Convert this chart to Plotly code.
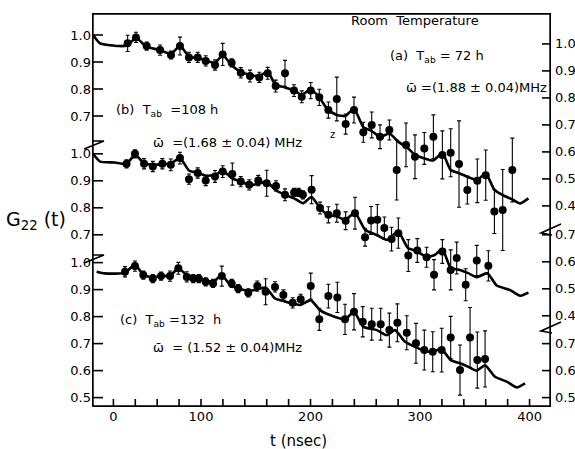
import plotly.graph_objects as go

# ---------------- data ----------------
# panel (a) T_ab = 72 h : measured points
t_a = [33, 40.6, 50.4, 62.6, 72.6, 80.8, 89, 97, 104.3, 112.8, 119.8, 128, 136.3, 144.7,
       153.2, 160.9, 168.2, 176.7, 184.9, 192, 200.2, 208, 216.3, 224, 232.1, 239.7, 248.2,
       255.9, 263.5, 272, 278.7, 287.2, 295.4, 303.9, 312.2, 320.4, 328, 335.6, 343.2,
       352.3, 360, 367.9, 375.5, 384.3]
g_a = [0.969, 0.991, 0.959, 0.944, 0.926, 0.959, 0.917, 0.917, 0.904, 0.889, 0.928, 0.897,
       0.860, 0.848, 0.843, 0.858, 0.811, 0.858, 0.794, 0.771, 0.794, 0.769, 0.722, 0.763,
       0.670, 0.722, 0.640, 0.667, 0.623, 0.648, 0.500, 0.593, 0.549, 0.580, 0.623, 0.556,
       0.564, 0.522, 0.426, 0.460, 0.481, 0.346, 0.352, 0.500]
e_a = [0.030, 0.019, 0.015, 0.019, 0.015, 0.033, 0.019, 0.019, 0.019, 0.019, 0.041, 0.015,
       0.019, 0.022, 0.019, 0.022, 0.022, 0.048, 0.022, 0.022, 0.030, 0.030, 0.030, 0.081,
       0.037, 0.048, 0.037, 0.048, 0.044, 0.037, 0.111, 0.081, 0.081, 0.059, 0.081, 0.089,
       0.089, 0.160, 0.052, 0.081, 0.093, 0.081, 0.150, 0.118]
# panel (a) fitted curve
tc_a = [1.4, 7.8, 26, 33, 40.6, 50, 62.6, 72.6, 80.8, 89, 97, 104, 112.8, 119.8, 128, 136,
        144.7, 153, 161, 168, 176.7, 185, 192, 200, 208, 216, 224, 232, 239.7, 248, 256,
        263.5, 272, 280, 288, 295.4, 304, 312, 320.4, 328, 335.6, 343.2, 352.3, 360, 368,
        375.5, 384.3, 391.3, 399]
gc_a = [1.0, 0.969, 0.959, 0.962, 0.990, 0.957, 0.944, 0.930, 0.960, 0.920, 0.915, 0.907,
        0.896, 0.926, 0.888, 0.864, 0.852, 0.848, 0.864, 0.815, 0.806, 0.795, 0.778, 0.799,
        0.769, 0.722, 0.704, 0.700, 0.728, 0.660, 0.644, 0.623, 0.635, 0.605, 0.584, 0.556,
        0.543, 0.535, 0.562, 0.500, 0.488, 0.475, 0.463, 0.488, 0.426, 0.407, 0.391, 0.376,
        0.395]

# panel (b) T_ab = 108 h
t_b = [32, 39.7, 48, 56, 64.7, 72.4, 80.8, 89, 97, 104.3, 112.8, 119.8, 128.6, 136.3, 144,
       152.3, 160, 168.5, 176.7, 185, 189, 193, 201, 208.7, 216.3, 224, 232.1, 240.6, 249.8,
       255.3, 261, 267.4, 274, 280.2, 289.3, 297.5, 306, 312.8, 320.4, 328, 333.5, 341.7,
       351.8, 362.4]
g_b = [0.963, 1.0, 0.963, 0.953, 0.963, 0.959, 0.984, 0.906, 0.929, 0.901, 0.916, 0.934,
       0.925, 0.897, 0.885, 0.901, 0.891, 0.881, 0.848, 0.857, 0.857, 0.848, 0.867, 0.799,
       0.774, 0.780, 0.752, 0.780, 0.691, 0.753, 0.756, 0.725, 0.684, 0.706, 0.623, 0.642,
       0.617, 0.552, 0.638, 0.570, 0.614, 0.515, 0.605, 0.585]
e_b = [0.015, 0.015, 0.019, 0.019, 0.019, 0.022, 0.022, 0.019, 0.019, 0.019, 0.022, 0.022,
       0.041, 0.019, 0.019, 0.019, 0.048, 0.019, 0.022, 0.015, 0.015, 0.015, 0.052, 0.022,
       0.030, 0.033, 0.033, 0.059, 0.033, 0.052, 0.056, 0.041, 0.044, 0.056, 0.059, 0.044,
       0.037, 0.056, 0.044, 0.074, 0.059, 0.059, 0.056, 0.056]
tc_b = [1.4, 7.8, 21, 32, 39.7, 48, 56, 64.7, 72, 80.8, 89, 97, 104.3, 113, 119.8, 128, 136,
        144, 153, 160, 167.6, 176.7, 185, 193, 201, 208.7, 216, 224, 232, 240.6, 249.8, 260,
        270, 280, 289, 297.5, 306, 313.7, 320.4, 328, 336.5, 344, 351.8, 361.5, 370, 382,
        391.3, 399]
gc_b = [1.0, 0.971, 0.968, 0.963, 0.996, 0.966, 0.959, 0.962, 0.963, 0.984, 0.938, 0.929,
        0.919, 0.922, 0.938, 0.910, 0.897, 0.885, 0.889, 0.897, 0.867, 0.848, 0.835, 0.817,
        0.840, 0.799, 0.774, 0.768, 0.756, 0.782, 0.719, 0.700, 0.681, 0.712, 0.651, 0.639,
        0.617, 0.626, 0.647, 0.577, 0.570, 0.558, 0.543, 0.558, 0.512, 0.496, 0.474, 0.486]

# panel (c) T_ab = 132 h
t_c = [30.6, 39.7, 47.3, 56, 63.5, 71.7, 79.3, 87, 93, 98, 104.3, 111, 119, 128, 134, 143.2,
       151.4, 159, 167.6, 175.2, 183.7, 191, 200.2, 208, 216.3, 224.5, 231.5, 239.7, 247.7,
       255.9, 264.1, 272, 279.3, 287.9, 296.3, 303.9, 311.6, 319.8, 328, 336.5, 345.7,
       352.3, 359.4]
g_c = [0.966, 0.987, 0.954, 0.941, 0.950, 0.950, 0.979, 0.947, 0.941, 0.941, 0.929, 0.923,
       0.950, 0.923, 0.904, 0.888, 0.913, 0.892, 0.910, 0.880, 0.851, 0.864, 0.913, 0.790,
       0.876, 0.871, 0.790, 0.818, 0.781, 0.772, 0.772, 0.750, 0.777, 0.740, 0.701, 0.676,
       0.670, 0.676, 0.723, 0.602, 0.723, 0.639, 0.643]
e_c = [0.019, 0.019, 0.015, 0.015, 0.015, 0.019, 0.022, 0.019, 0.015, 0.015, 0.015, 0.015,
       0.037, 0.015, 0.015, 0.015, 0.019, 0.048, 0.019, 0.019, 0.019, 0.019, 0.048, 0.041,
       0.044, 0.056, 0.056, 0.067, 0.056, 0.059, 0.059, 0.063, 0.070, 0.063, 0.074, 0.074,
       0.074, 0.081, 0.078, 0.093, 0.111, 0.104, 0.104]
tc_c = [4.7, 12, 30.6, 39.7, 47.3, 56, 64, 72, 79.3, 87, 96, 104, 111, 119, 126.5, 134, 143,
        151, 159, 167.6, 176, 182.8, 190.4, 200.2, 208.7, 217.8, 231.5, 239.7, 248.2, 260.5,
        269.6, 277.2, 286.3, 295.4, 304.6, 312.2, 319.2, 328, 336.5, 344, 351.8, 359.4,
        368.5, 379.2, 388.3, 395.9]
gc_c = [0.966, 0.960, 0.962, 0.994, 0.954, 0.946, 0.950, 0.952, 0.979, 0.954, 0.945, 0.935,
        0.928, 0.954, 0.917, 0.904, 0.896, 0.900, 0.908, 0.867, 0.857, 0.849, 0.843, 0.861,
        0.824, 0.806, 0.790, 0.818, 0.762, 0.750, 0.731, 0.750, 0.707, 0.688, 0.673, 0.670,
        0.682, 0.639, 0.627, 0.614, 0.600, 0.620, 0.577, 0.559, 0.538, 0.553]

# vertical offsets of the stacked panels and their tick labels
offset_a, offset_b, offset_c = 0.0, 0.44, 0.843
offset_a_right = 0.033
left_ticks_a = [1.0, 0.9, 0.8, 0.7]
left_ticks_b = [1.0, 0.9, 0.8, 0.7]
left_ticks_c = [1.0, 0.9, 0.8, 0.7, 0.6, 0.5]
right_ticks_a = [1.0, 0.9, 0.8, 0.7, 0.6, 0.5, 0.4]
right_ticks_b = [0.7, 0.6, 0.5, 0.4]
right_ticks_c = [0.7, 0.6, 0.5]
x_ticks = list(range(20, 401, 20))
x_label_vals = [20, 100, 200, 300, 400]
x_label_text = ["0", "100", "200", "300", "400"]

# ---------------- figure ----------------
W, H = 575, 449
ML, MR, MT, MB = 92, 24, 13, 42
PW, PH = W - ML - MR, H - MT - MB
X0, X1 = 0.46, 419.6
Y0, Y1 = -0.3778, 1.0815
DX, DY = (X1 - X0) / PW, (Y1 - Y0) / PH   # data units per pixel
FONT = "DejaVu Sans"
INK = "black"


def px(x):
    return (x - ML) / PW


def py(y):
    return (H - MB - y) / PH


fig = go.Figure()

panels = [(t_a, g_a, e_a, tc_a, gc_a, offset_a),
          (t_b, g_b, e_b, tc_b, gc_b, offset_b),
          (t_c, g_c, e_c, tc_c, gc_c, offset_c)]
for t, g, e, tc, gc, off in panels:
    fig.add_trace(go.Scatter(x=tc, y=[v - off for v in gc], mode="lines",
                             line=dict(color=INK, width=2.6, shape="spline", smoothing=0.5),
                             showlegend=False, hoverinfo="skip"))
    fig.add_trace(go.Scatter(x=t, y=[v - off for v in g], mode="markers",
                             marker=dict(color=INK, size=8),
                             error_y=dict(type="data", array=e, color=INK, thickness=1.1, width=2),
                             showlegend=False, hoverinfo="skip"))

left_vals = ([v - offset_a for v in left_ticks_a] + [v - offset_b for v in left_ticks_b]
             + [v - offset_c for v in left_ticks_c])
left_text = [f"{v:.1f}" for v in left_ticks_a + left_ticks_b + left_ticks_c]
right_vals = ([v - offset_a_right for v in right_ticks_a] + [v - offset_b for v in right_ticks_b]
              + [v - offset_c for v in right_ticks_c])
right_text = [f"{v:.1f}" for v in right_ticks_a + right_ticks_b + right_ticks_c]

# frame and tick marks, drawn as plain line traces in axis units
xl, xr = X0 + 0.6 * DX, X1 - 0.6 * DX
yb_, yt_ = Y0 + 0.6 * DY, Y1 - 0.6 * DY
fig.add_trace(go.Scatter(x=[xl, xr, xr, xl, xl], y=[yb_, yb_, yt_, yt_, yb_], mode="lines",
                         line=dict(color=INK, width=2.2), showlegend=False, hoverinfo="skip",
                         cliponaxis=False))
tick_x, tick_y = [], []
for v in left_vals:
    tick_x += [X0, X0 + 11 * DX, None]
    tick_y += [v, v, None]
for v in right_vals:
    tick_x += [X1 - 9 * DX, X1, None]
    tick_y += [v, v, None]
for v in x_ticks:
    tick_x += [v, v, None]
    tick_y += [Y0, Y0 + 8 * DY, None]
fig.add_trace(go.Scatter(x=tick_x, y=tick_y, mode="lines", line=dict(color=INK, width=1.6),
                         showlegend=False, hoverinfo="skip", connectgaps=False))

tickfont = dict(family=FONT, size=13, color=INK)
fig.update_layout(
    width=W, height=H, margin=dict(l=ML, r=MR, t=MT, b=MB, pad=0, autoexpand=False),
    paper_bgcolor="white", plot_bgcolor="white",
    xaxis=dict(range=[X0, X1], tickmode="array", tickvals=x_label_vals, ticktext=x_label_text,
               showgrid=False, zeroline=False, showline=False, ticks="", automargin=False,
               tickfont=tickfont),
    yaxis=dict(range=[Y0, Y1], tickmode="array", tickvals=left_vals, ticktext=left_text,
               showgrid=False, zeroline=False, showline=False, ticks="", automargin=False,
               tickfont=tickfont),
)

# right-hand scale labels
for v, s in zip(right_vals, right_text):
    fig.add_annotation(text=s, x=1 + 2 / PW, y=v, xref="paper", yref="y", xanchor="left",
                       yanchor="middle", showarrow=False, font=tickfont)

# axis break marks
breaks_left = [143, 257]
for yb in breaks_left:
    fig.add_shape(type="path", xref="paper", yref="paper",
                  path=f"M {px(84):.4f} {py(yb + 6):.4f} L {px(104):.4f} {py(yb - 2):.4f} L {px(92):.4f} {py(yb - 2):.4f}",
                  line=dict(color=INK, width=1.6))
breaks_right = [224, 322]
for yb in breaks_right:
    fig.add_shape(type="path", xref="paper", yref="paper",
                  path=f"M {px(561):.4f} {py(yb):.4f} L {px(541):.4f} {py(yb + 9):.4f} L {px(552):.4f} {py(yb + 11):.4f}",
                  line=dict(color=INK, width=1.6))

texts = [
    ("Room  Temperature", 415, 20, 13),
    ("(a)  T<sub>ab</sub> = 72 h", 437, 56, 13),
    ("\u03c9\u0304 =(1.88 \u00b1 0.04)MHz", 476, 87, 13),
    ("(b)  T<sub>ab</sub>  =108 h", 167, 111, 13),
    ("\u03c9\u0304  =(1.68 \u00b1 0.04) MHz", 227, 142, 13),
    ("(c)  T<sub>ab</sub> =132  h", 170, 320, 13),
    ("\u03c9\u0304  = (1.52 \u00b1 0.04)MHz", 227, 347, 13),
    ("z", 332, 134, 10),
    ("G<sub>22</sub> (t)", 36, 220, 19),
    ("t (nsec)", 298, 441, 15),
]
for txt, x, y, s in texts:
    fig.add_annotation(text=txt, x=px(x), y=py(y), xref="paper", yref="paper",
                       xanchor="center", yanchor="middle", showarrow=False,
                       font=dict(family=FONT, size=s, color=INK))

fig.write_html("out.html", config={"displayModeBar": False},
               post_script="document.body.style.margin='0px';document.body.style.padding='0px';")
